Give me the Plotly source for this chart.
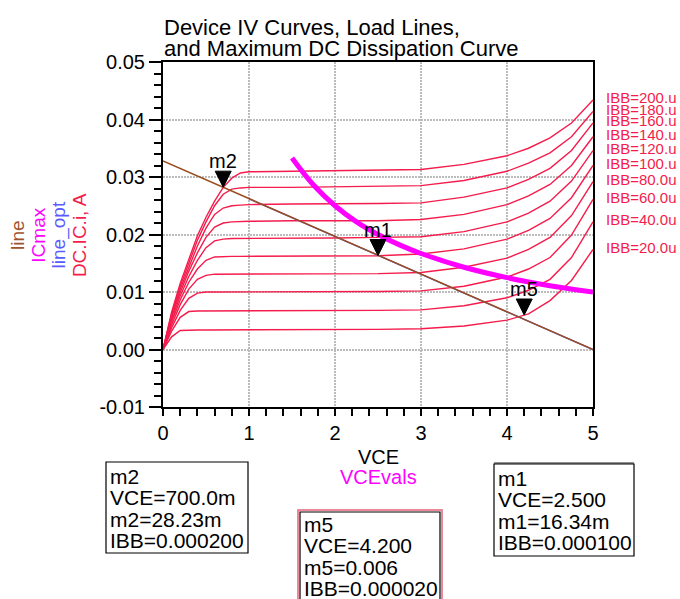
import plotly.graph_objects as go

# ---------------- data ----------------
vce = [0, 0.1, 0.2, 0.3, 0.4, 0.5, 0.6, 0.7, 0.8, 0.9, 1.0, 1.5, 2.0, 2.5, 3.0, 3.5, 4.0, 4.25, 4.5, 4.75, 5.0]

ibb_labels = ["IBB=200.u", "IBB=180.u", "IBB=160.u", "IBB=140.u", "IBB=120.u",
              "IBB=100.u", "IBB=80.0u", "IBB=60.0u", "IBB=40.0u", "IBB=20.0u"]

ic_200 = [0, .0065, .0115, .0157, .0198, .0230, .0258, .0282, .0298, .0307, .0309, .0310, .0311, .0311, .0313, .0322, .0337, .0350, .0368, .0394, .0434]
ic_180 = [0, .0062, .0110, .0150, .0190, .0222, .0250, .0270, .0279, .0281, .0282, .0282, .0283, .0283, .0285, .0294, .0310, .0324, .0342, .0370, .0414]
ic_160 = [0, .0059, .0105, .0144, .0180, .0211, .0235, .0246, .0250, .0251, .0252, .0253, .0253, .0254, .0255, .0265, .0281, .0296, .0315, .0346, .0394]
ic_140 = [0, .0056, .0099, .0136, .0168, .0195, .0213, .0220, .0222, .0223, .0223, .0224, .0224, .0224, .0226, .0235, .0252, .0267, .0287, .0320, .0370]
ic_120 = [0, .0052, .0093, .0127, .0155, .0177, .0189, .0192, .0193, .0193, .0193, .0194, .0194, .0195, .0196, .0205, .0222, .0237, .0258, .0293, .0346]
ic_100 = [0, .0048, .0086, .0117, .0140, .0155, .0161, .0162, .0162, .0162, .0162, .0163, .0163, .0163, .0166, .0175, .0192, .0207, .0228, .0264, .0320]
ic_80 = [0, .0043, .0078, .0105, .0122, .0129, .0131, .0131, .0131, .0131, .0131, .0132, .0132, .0132, .0134, .0143, .0159, .0174, .0195, .0233, .0292]
ic_60 = [0, .0038, .0068, .0089, .0098, .0100, .0100, .0100, .0100, .0100, .0100, .0101, .0101, .0101, .0102, .0110, .0126, .0140, .0160, .0199, .0261]
ic_40 = [0, .0032, .0056, .0066, .0067, .0067, .0067, .0067, .0067, .0067, .0067, .0067, .0068, .0068, .0069, .0076, .0090, .0103, .0122, .0160, .0222]
ic_20 = [0, .0022, .0033, .0034, .0034, .0034, .0034, .0034, .0034, .0034, .0034, .0034, .0034, .0035, .0036, .0041, .0051, .0062, .0085, .0120, .0174]

vce_line = [0.0, 5.0]
ic_line = [0.0328, 0.0]

vce_line_opt = [1.0, 5.0]
ic_line_opt = [0.0262, 0.0]

vce_icmax = [1.5, 1.75, 2.0, 2.25, 2.5, 2.75, 3.0, 3.5, 4.0, 4.5, 5.0]
icmax = [0.0333, 0.0286, 0.0250, 0.0222, 0.0200, 0.0182, 0.0167, 0.0143, 0.0125, 0.0111, 0.0100]

marker_names = ["m2", "m1", "m5"]
marker_vce = [0.7, 2.5, 4.2]
marker_ic = [0.02823, 0.01634, 0.006]
marker_vce_txt = ["700.0m", "2.500", "4.200"]
marker_ic_txt = ["28.23m", "16.34m", "0.006"]
marker_ibb_txt = ["0.000200", "0.000100", "0.000020"]

x_ticks = [0, 1, 2, 3, 4, 5]
y_ticks = [-0.01, 0.00, 0.01, 0.02, 0.03, 0.04, 0.05]

title_lines = ["Device IV Curves, Load Lines,", "and Maximum DC Dissipation Curve"]
y_titles = [("line", "#a0522d"), ("ICmax", "#ff00ff"), ("line_opt", "#5a5aff"), ("DC.IC.i, A", "#f51c4c")]

# ---------------- figure ----------------
FONT = "Liberation Sans, Arial, sans-serif"
RED = "#f51c4c"
curves = [ic_200, ic_180, ic_160, ic_140, ic_120, ic_100, ic_80, ic_60, ic_40, ic_20]

# plot area in pixels (for paper conversions of decorations)
L, R, T, B = 163, 593, 62, 407
W, H = R - L, B - T


def px(x):
    return (x - L) / W


def py(y):
    return (B - y) / H


fig = go.Figure()
for ic in curves:
    fig.add_trace(go.Scatter(x=vce, y=ic, mode="lines",
                             line=dict(color=RED, width=1.4), hoverinfo="skip"))

fig.add_trace(go.Scatter(x=vce_line_opt, y=ic_line_opt, mode="lines",
                         line=dict(color="#5a5aff", width=1.4), hoverinfo="skip"))
fig.add_trace(go.Scatter(x=vce_line, y=ic_line, mode="lines",
                         line=dict(color="#9a4d1c", width=1.5), hoverinfo="skip"))
fig.add_trace(go.Scatter(x=vce_icmax, y=icmax, mode="lines", line_shape="spline",
                         line=dict(color="#ff00ff", width=5), hoverinfo="skip"))

annotations = []
shapes = []

# curve labels at curve ends
for lab, ic in zip(ibb_labels, curves):
    annotations.append(dict(x=vce[-1], y=ic[-1], xref="x", yref="y", text=lab,
                            showarrow=False, xanchor="left", yanchor="middle",
                            xshift=11, yshift=2,
                            font=dict(family=FONT, size=15, color=RED)))

# markers (triangles) and their labels
for name, xv, yv in zip(marker_names, marker_vce, marker_ic):
    shapes.append(dict(type="path", xref="x", yref="y", xsizemode="pixel", ysizemode="pixel",
                       xanchor=xv, yanchor=yv, path="M -8,16 L 8,16 L 0,0 Z",
                       fillcolor="black", line=dict(color="black", width=1)))
    annotations.append(dict(x=xv, y=yv, xref="x", yref="y", text=name, showarrow=False,
                            xanchor="center", yanchor="middle", yshift=26,
                            font=dict(family=FONT, size=20, color="black")))

# title
for i, t in enumerate(title_lines):
    annotations.append(dict(x=px(162), y=py(27 + 22 * i), xref="paper", yref="paper", text=t,
                            showarrow=False, xanchor="left", yanchor="middle",
                            font=dict(family=FONT, size=22, color="black")))

# y axis titles (rotated)
for i, (t, c) in enumerate(y_titles):
    annotations.append(dict(x=px(18 + 20.7 * i), y=py(235), xref="paper", yref="paper", text=t,
                            showarrow=False, textangle=-90, xanchor="center", yanchor="middle",
                            font=dict(family=FONT, size=19, color=c)))

# x axis titles
annotations.append(dict(x=px(378), y=py(470), xref="paper", yref="paper", text="VCE",
                        showarrow=False, font=dict(family=FONT, size=20, color="black")))
annotations.append(dict(x=px(378), y=py(490), xref="paper", yref="paper", text="VCEvals",
                        showarrow=False, font=dict(family=FONT, size=20, color="#ff00ff")))

# marker readout boxes
boxes = {
    "m2": dict(x0=106, x1=248, y0=462, y1=553, tx=108, ty=476),
    "m1": dict(x0=494, x1=634, y0=464, y1=556, tx=496, ty=478),
    "m5": dict(x0=300, x1=440, y0=512, y1=640, tx=302, ty=524),
}
for name, xv_t, yv_t, ibb_t in zip(marker_names, marker_vce_txt, marker_ic_txt, marker_ibb_txt):
    b = boxes[name]
    if name == "m5":
        shapes.append(dict(type="rect", xref="paper", yref="paper",
                           x0=px(b["x0"] - 2), x1=px(b["x1"] + 2), y0=py(b["y1"] + 2), y1=py(b["y0"] - 2),
                           line=dict(color="#e8607a", width=1.5), fillcolor="rgba(0,0,0,0)"))
    if name == "m1":
        shapes.append(dict(type="line", xref="paper", yref="paper",
                           x0=px(b["x0"]), x1=px(b["x1"]), y0=py(b["y0"] - 1), y1=py(b["y0"] - 1),
                           line=dict(color="#909090", width=2)))
    shapes.append(dict(type="rect", xref="paper", yref="paper",
                       x0=px(b["x0"]), x1=px(b["x1"]), y0=py(b["y1"]), y1=py(b["y0"]),
                       line=dict(color="black", width=1.2), fillcolor="rgba(0,0,0,0)"))
    lines = [name, "VCE=" + xv_t, name + "=" + yv_t, "IBB=" + ibb_t]
    for i, t in enumerate(lines):
        annotations.append(dict(x=px(b["tx"]), y=py(b["ty"] + 21.5 * i), xref="paper", yref="paper",
                                text=t, showarrow=False, xanchor="left", yanchor="middle",
                                font=dict(family=FONT, size=21, color="black")))

fig.update_layout(
    width=680, height=599,
    margin=dict(l=L, r=680 - R, t=T, b=599 - B, pad=0, autoexpand=False),
    paper_bgcolor="white", plot_bgcolor="white",
    showlegend=False,
    annotations=annotations, shapes=shapes,
    font=dict(family=FONT, size=20, color="black"),
)
fig.update_xaxes(range=[0, 5], tickvals=x_ticks, ticktext=[str(v) for v in x_ticks],
                 ticks="outside", ticklen=7, tickwidth=1.5, tickcolor="black",
                 minor=dict(dtick=0.2, ticks="outside", ticklen=7, tickwidth=1.5, tickcolor="black", showgrid=False),
                 showline=True, mirror=True, linecolor="black", linewidth=2,
                 showgrid=True, gridcolor="#bcbcbc", gridwidth=2, griddash="2px,1px",
                 zeroline=False, automargin=False, tickfont=dict(family=FONT, size=20, color="black"))
fig.update_yaxes(range=[-0.01, 0.05], tickvals=y_ticks, ticktext=[f"{v:.2f}" for v in y_ticks],
                 ticks="outside", ticklen=12, tickwidth=1.5, tickcolor="black",
                 minor=dict(dtick=0.002, ticks="outside", ticklen=7, tickwidth=1.5, tickcolor="black", showgrid=False),
                 showline=True, mirror=True, linecolor="black", linewidth=2,
                 showgrid=True, gridcolor="#bcbcbc", gridwidth=2, griddash="2px,1px",
                 zeroline=False, automargin=False, tickfont=dict(family=FONT, size=20, color="black"))

fig.write_html("out.html", config={"displayModeBar": False},
               post_script="document.body.style.margin='0';document.body.style.overflow='hidden';")
